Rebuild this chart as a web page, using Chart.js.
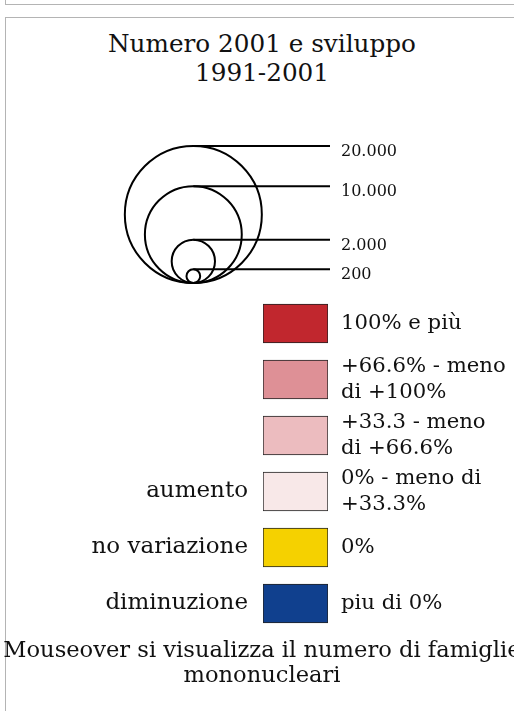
<!DOCTYPE html>
<html>
<head>
<meta charset="utf-8">
<script src="https://cdn.jsdelivr.net/npm/chart.js@4"></script>
<style>
  html, body { margin: 0; padding: 0; background: #fff; overflow: hidden; }
  body { width: 514px; height: 711px; position: relative; font-family: "DejaVu Serif", serif; color: #111; }
  .box { position: absolute; border: 1px solid #b4b4b4; box-sizing: border-box; }
  #boxTop { left: 5px; top: -40px; width: 540px; height: 45px; }
  #boxMain { left: 5px; top: 17px; width: 540px; height: 760px; }
  #title { position: absolute; left: 5px; width: 514px; top: 29px; text-align: center; font-size: 24.7px; line-height: 29px; }
  #footer { position: absolute; left: -60px; width: 644px; top: 637px; text-align: center; font-size: 22.6px; line-height: 25px; }
  #circles { position: absolute; left: 0; top: 120px; }
  #classes { position: absolute; left: 0; top: 290px; }
</style>
</head>
<body>
<div class="box" id="boxTop"></div>
<div class="box" id="boxMain"></div>
<div id="title">Numero 2001 e sviluppo<br>1991-2001</div>
<canvas id="circles" width="514" height="180"></canvas>
<canvas id="classes" width="514" height="350"></canvas>
<div id="footer">Mouseover si visualizza il numero di famiglie<br>mononucleari</div>
<script>
// circle sizes (number of households)
var sizeValues = [20000, 10000, 2000, 200]
var sizeLabels = ['20.000', '10.000', '2.000', '200']

// classes of change 1991-2001
var classLeft = ['', '', '', 'aumento', 'no variazione', 'diminuzione']
var classRight = [
  '100% e più',
  ['+66.6% - meno', 'di +100%'],
  ['+33.3 - meno', 'di +66.6%'],
  ['0% - meno di', '+33.3%'],
  '0%',
  'piu di 0%',
]
var classColors = ['#c1272e', '#de9096', '#ecbcbf', '#f8e8e8', '#f5d100', '#10408e']
var classValues = [1, 1, 1, 1, 1, 1]

var fontFamily = '"DejaVu Serif", serif'
var ink = '#111'

// circles sit on a common base; side in y units = 2 * sqrt(value)
var maxSide = 2 * Math.sqrt(sizeValues[0])
var circleSets = []
sizeValues.forEach(function(v) {
  circleSets.push({
    type: 'bubble',
    data: [{ x: 0, y: Math.sqrt(v) }],
    backgroundColor: 'rgba(0,0,0,0)',
    borderColor: '#000',
    borderWidth: 2,
    clip: false,
  })
  circleSets.push({
    type: 'line',
    data: [{ x: 0, y: 2 * Math.sqrt(v) }, { x: 2, y: 2 * Math.sqrt(v) }],
    borderColor: '#000',
    borderWidth: 2,
    pointRadius: 0,
    clip: false,
  })
})

var noPad = function(width) {
  return function(s) {
    s.width = width
    s.paddingTop = 0
    s.paddingBottom = 0
  }
}

var circles = new Chart(document.getElementById('circles').getContext('2d'), {
  type: 'scatter',
  data: { datasets: circleSets },
  options: {
    responsive: false,
    animation: false,
    events: [],
    layout: { autoPadding: false, padding: { left: 125, top: 26, bottom: 17, right: 0 } },
    plugins: { legend: { display: false }, tooltip: { enabled: false } },
    scales: {
      x: { type: 'linear', min: -1, max: 2, display: false },
      y: {
        type: 'linear',
        position: 'right',
        min: 0,
        max: maxSide,
        grid: { display: false, drawTicks: false },
        border: { display: false },
        afterFit: noPad(184),
        afterBuildTicks: function(s) {
          s.ticks = sizeValues.map(function(v) { return { value: 2 * Math.sqrt(v) } })
        },
        ticks: {
          padding: 11,
          labelOffset: 6,
          color: ink,
          font: { family: fontFamily, size: 16 },
          callback: function(val, i) { return sizeLabels[i] },
        },
      },
    },
  },
})

// bubble radius in pixels, taken from the y scale once it is laid out
var yScale = circles.scales.y
circles.data.datasets.forEach(function(ds) {
  if (ds.type !== 'bubble') return
  var p = ds.data[0]
  ds.data = [{ x: p.x, y: p.y, r: yScale.getPixelForValue(0) - yScale.getPixelForValue(p.y) }]
})
circles.update('none')

new Chart(document.getElementById('classes').getContext('2d'), {
  type: 'bar',
  data: {
    labels: classLeft,
    datasets: [{
      data: classValues,
      backgroundColor: classColors,
      borderColor: '#222',
      borderWidth: 1,
      borderSkipped: false,
      barThickness: 39,
    }],
  },
  options: {
    indexAxis: 'y',
    responsive: false,
    animation: false,
    events: [],
    layout: { autoPadding: false, padding: { top: 5.5, bottom: 8.5 } },
    plugins: { legend: { display: false }, tooltip: { enabled: false } },
    scales: {
      x: { min: 0, max: 1, display: false },
      y: {
        position: 'left',
        grid: { display: false, drawTicks: false },
        border: { display: false },
        afterFit: noPad(263),
        ticks: { padding: 15, color: ink, font: { family: fontFamily, size: 23 } },
      },
      y2: {
        type: 'category',
        labels: classLeft.map(function(l, i) { return 'c' + i }),
        position: 'right',
        offset: true,
        grid: { display: false, drawTicks: false },
        border: { display: false },
        afterFit: noPad(186),
        ticks: {
          padding: 13,
          color: ink,
          font: { family: fontFamily, size: 21.2, lineHeight: 1.18 },
          callback: function(val, i) { return classRight[i] },
        },
      },
    },
  },
})
</script>
</body>
</html>
